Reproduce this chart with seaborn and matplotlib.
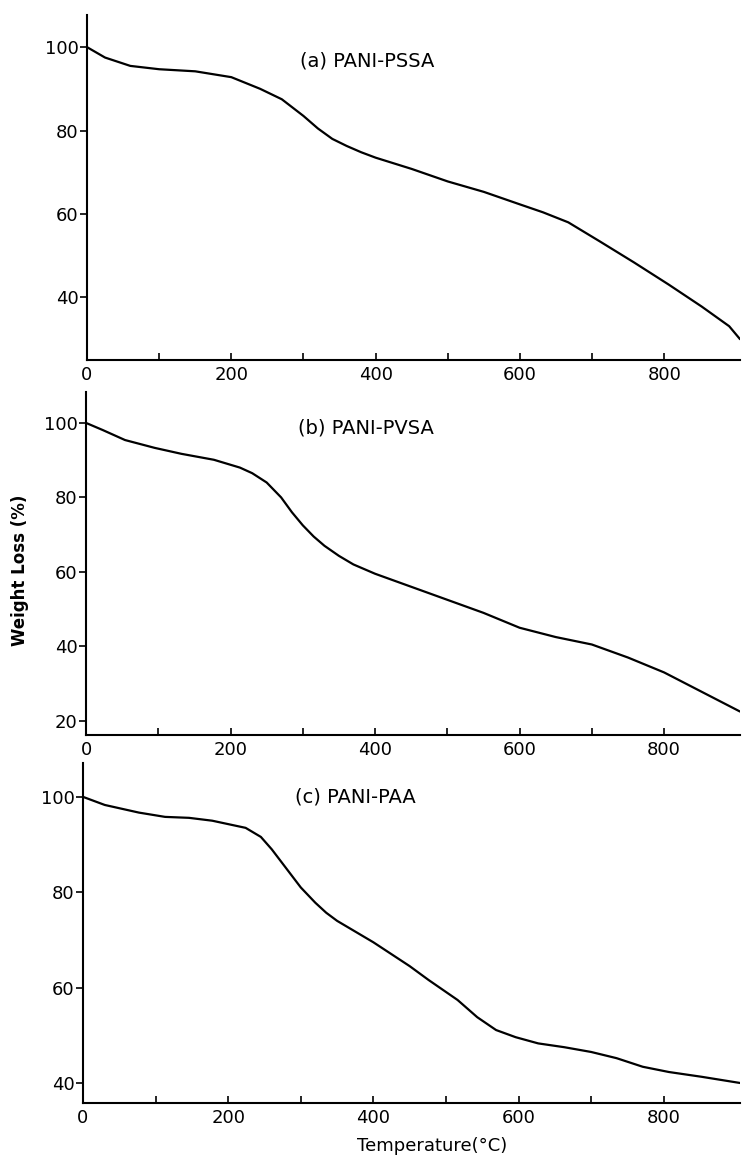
import matplotlib
matplotlib.use('Agg')
import matplotlib.pyplot as plt
import numpy as np
import pandas as pd
import seaborn as sns

# (a) PANI-PSSA
temp_a = [0, 25, 60, 100, 150, 200, 240, 270, 300, 320, 340, 360, 380, 400, 450, 500, 550,
          600, 632, 667, 711, 758, 806, 852, 890, 905]
wt_a = [100, 97.5, 95.5, 94.7, 94.2, 92.8, 90.0, 87.5, 83.5, 80.5, 78.0, 76.3, 74.8, 73.5,
        70.8, 67.8, 65.3, 62.3, 60.4, 58.0, 53.4, 48.4, 43.1, 37.8, 33.1, 30.0]

# (b) PANI-PVSA
temp_b = [0, 23, 54, 95, 132, 177, 213, 230, 250, 270, 285, 300, 315, 330, 350, 370, 400,
          450, 500, 550, 600, 650, 700, 750, 800, 850, 905]
wt_b = [100, 98.1, 95.4, 93.3, 91.7, 90.1, 88.0, 86.5, 84.0, 80.0, 76.0, 72.5, 69.5, 67.0,
        64.3, 62.0, 59.5, 56.0, 52.5, 49.0, 45.0, 42.5, 40.5, 37.0, 33.0, 28.0, 22.5]

# (c) PANI-PAA
temp_c = [0, 30, 77, 113, 146, 178, 224, 245, 260, 280, 300, 320, 335, 350, 400, 450, 476,
          516, 543, 569, 596, 627, 663, 700, 735, 771, 807, 852, 905]
wt_c = [100, 98.3, 96.7, 95.8, 95.6, 95.0, 93.5, 91.6, 89.0, 85.0, 81.0, 77.8, 75.7, 74.0,
        69.5, 64.5, 61.6, 57.4, 53.8, 51.1, 49.6, 48.3, 47.5, 46.5, 45.2, 43.4, 42.3, 41.3, 40.0]

titles = ['(a) PANI-PSSA', '(b) PANI-PVSA', '(c) PANI-PAA']
yticks = [[40, 60, 80, 100], [20, 40, 60, 80, 100], [40, 60, 80, 100]]
ylims = [(25, 107.7), (16.2, 108.3), (35.8, 107.1)]
xticks_major = [0, 200, 400, 600, 800]
xticks_minor = [100, 300, 500, 700]

sns.set_style('ticks')
plt.rcParams['font.family'] = ['DejaVu Sans']
plt.rcParams['text.color'] = 'black'
plt.rcParams['xtick.color'] = 'black'
plt.rcParams['ytick.color'] = 'black'

W, H = 742, 1159
fig = plt.figure(figsize=(W / 100, H / 100), dpi=100)

# pixel boxes: left, top, right, bottom
boxes = [(87, 15, 740, 360), (86, 392, 740, 735), (83, 763, 740, 1103)]
title_pos = [(0.326, 0.867), (0.324, 0.895), (0.323, 0.90)]
series = [(temp_a, wt_a), (temp_b, wt_b), (temp_c, wt_c)]

for i, (box, (tx, wy)) in enumerate(zip(boxes, series)):
    l, t, r, b = box
    ax = fig.add_axes([l / W, 1 - b / H, (r - l) / W, (b - t) / H])
    df = pd.DataFrame({'Temperature': tx, 'Weight': wy})
    sns.lineplot(data=df, x='Temperature', y='Weight', ax=ax, color='black', linewidth=1.6)

    ax.set_xlim(0, 905)
    ax.set_ylim(*ylims[i])
    ax.set_xticks(xticks_major)
    ax.set_xticks(xticks_minor, minor=True)
    ax.set_yticks(yticks[i])
    ax.tick_params(axis='x', which='both', direction='in', length=5, width=1.2,
                   labelsize=13, pad=4, colors='black')
    ax.tick_params(axis='y', direction='out', length=5, width=1.2, labelsize=13, pad=1,
                   colors='black')
    for s in ['top', 'right']:
        ax.spines[s].set_visible(False)
    for s in ['left', 'bottom']:
        ax.spines[s].set_linewidth(1.5)
        ax.spines[s].set_color('black')
    ax.set_xlabel('')
    ax.set_ylabel('')
    ax.text(title_pos[i][0], title_pos[i][1], titles[i], transform=ax.transAxes,
            ha='left', va='center', fontsize=14, color='black')

fig.text(20 / W, 1 - 570 / H, 'Weight Loss (%)', rotation=90, ha='center', va='center',
         fontsize=12, fontweight='bold', color='black')
fig.text(432 / W, 1 - 1146 / H, 'Temperature(°C)', ha='center', va='center', fontsize=13,
         color='black')

fig.savefig('out.png', dpi=100)
